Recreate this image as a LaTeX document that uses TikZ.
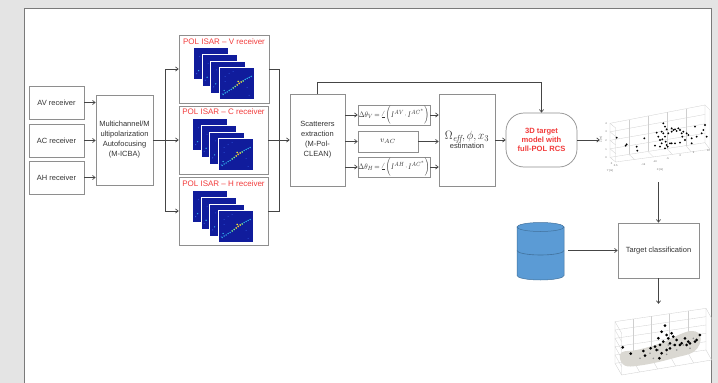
\documentclass[tikz,border=0pt]{standalone}
\usepackage{fontspec}
\setsansfont{Liberation Sans}
\usetikzlibrary{arrows.meta,calc}

\definecolor{pagebg}{HTML}{E4E4E4}
\definecolor{panelline}{HTML}{7A7A7A}
\definecolor{boxline}{HTML}{8E8E8E}
\definecolor{arrowcol}{HTML}{454545}
\definecolor{titlered}{HTML}{F23C3C}
\definecolor{isarblue}{HTML}{101C9C}
\definecolor{isarlight}{HTML}{2F55E0}
\definecolor{isarcyan}{HTML}{33B8F0}
\definecolor{isargreen}{HTML}{7CF08A}
\definecolor{isaryellow}{HTML}{F5E63A}
\definecolor{isarred}{HTML}{F06A2A}
\definecolor{dbblue}{HTML}{5B9BD5}
\definecolor{dbedge}{HTML}{41719C}
\definecolor{gridgray}{HTML}{CFCFCF}
\definecolor{hullgray}{HTML}{DAD8D2}

% narrow set-up for the phase-difference formulas
\newcommand\narrowmath[1]{\scalebox{0.82}[1]{$\thickmuskip=3mu \medmuskip=2mu #1$}}

\tikzset{
  % a stack of four ISAR image frames
  isarstack/.pic={
    \foreach \k in {0,1,2,3}{
      \filldraw[fill=isarblue, draw=white, line width=0.5pt]
        ({8.5*\k},{6.6*\k}) rectangle ++(35,32);
      \fill[isarcyan] ({8.5*\k+5},{6.6*\k+23}) circle[radius=0.7pt];
      \fill[isarlight] ({8.5*\k+3},{6.6*\k+26}) circle[radius=0.6pt];
      \fill[isarlight] ({8.5*\k+6},{6.6*\k+9}) circle[radius=0.5pt];
    }
    \begin{scope}[shift={(25.5,19.8)}]
      \foreach \px/\py in {10/6,28/20,6/14,30/28,14/4}
        \fill[isarlight] (\px,\py) circle[radius=0.5pt];
      \foreach \px/\py in {4/27,6/25.5,8/24.5,10/23,12/22,26/12,28/11,30/10,32/9}
        \fill[isarcyan] (\px,\py) circle[radius=0.8pt];
      \foreach \px/\py in {14/20.5,16/19,24/13.5}
        \fill[isargreen] (\px,\py) circle[radius=0.9pt];
      \foreach \px/\py in {18/17.5,20/16,22/14.5,19/14}
        \fill[isaryellow] (\px,\py) circle[radius=0.9pt];
      \fill[isarred] (20.5,15.5) circle[radius=0.6pt];
    \end{scope}
  },
  blk/.style={draw=boxline, line width=0.7pt, fill=white, align=center,
    inner sep=1pt},
  formula/.style={blk, inner sep=0pt, font=\fontsize{8}{10}\selectfont},
  flow/.style={draw=arrowcol, line width=0.7pt,
    -{Straight Barb[length=2.6pt,width=4.2pt]}},
  link/.style={draw=arrowcol, line width=0.7pt},
  isartitle/.style={text=titlered, font=\sffamily\fontsize{8}{9}\selectfont},
  grid3d/.style={draw=gridgray, line width=0.3pt},
  tick3d/.style={text=black!60, font=\sffamily\fontsize{2.6}{3}\selectfont, inner sep=0pt},
}

\begin{document}
\begin{tikzpicture}[x=1pt, y=-1pt,
  every node/.style={font=\sffamily\fontsize{7.5}{10}\selectfont, text=black!80}]

\useasboundingbox (0,0) rectangle (718,383);
\fill[pagebg] (0,0) rectangle (718,383);
\filldraw[fill=white, draw=panelline, line width=0.9pt] (24,8) rectangle (711,398);

% receivers
\node[blk, minimum width=55pt, minimum height=33pt] (av) at (56.5,102.5) {AV receiver};
\node[blk, minimum width=55pt, minimum height=33pt] (ac) at (56.5,140.5) {AC receiver};
\node[blk, minimum width=55pt, minimum height=33pt] (ah) at (56.5,177.5) {AH receiver};

% autofocusing
\node[blk, minimum width=57pt, minimum height=90pt] (mc) at (124.5,140)
  {Multichannel/M\\ultipolarization\\Autofocusing\\(M-ICBA)};

% POL ISAR image boxes
\node[blk, minimum width=90pt, minimum height=68pt] (polV) at (224,69) {};
\node[blk, minimum width=89pt, minimum height=68pt] (polC) at (223.5,140) {};
\node[blk, minimum width=89pt, minimum height=68pt] (polH) at (223.5,211) {};
\node[isartitle] at ($(polV.north)+(0,6.5)$) {POL ISAR -- V receiver};
\node[isartitle] at ($(polC.north)+(0,6)$) {POL ISAR -- C receiver};
\node[isartitle] at ($(polH.north)+(0,7)$) {POL ISAR -- H receiver};
\pic at ($(polV.north west)+(15,13)$) {isarstack};
\pic at ($(polC.north west)+(14,13)$) {isarstack};
\pic at ($(polH.north west)+(14,14)$) {isarstack};

% scatterers extraction
\node[blk, minimum width=55pt, minimum height=92pt] (sc) at (317.5,140)
  {Scatterers\\extraction\\(M-Pol-\\CLEAN)};

% phase differences and radial velocity
\node[formula, minimum width=72pt, minimum height=20pt] (f1) at (394,115)
  {\narrowmath{\Delta\theta_V=\angle\Big(I^{AV}\cdot I^{AC^*}\Big)}};
\node[formula, minimum width=60pt, minimum height=21pt] (f2) at (388,141.5)
  {$v_{AC}$};
\node[formula, minimum width=72pt, minimum height=20pt] (f3) at (394,167)
  {\narrowmath{\Delta\theta_H=\angle\Big(I^{AH}\cdot I^{AC^*}\Big)}};

% estimation
\node[blk, minimum width=56pt, minimum height=92pt] (est) at (467,140)
  {{\fontsize{12.5}{13}\selectfont\scalebox{0.92}[1]{$\Omega_{\mathit{eff}},\phi,x_3$}}\\[-1pt]estimation};

% 3D target model
\node[draw=boxline, line width=0.7pt, fill=white, rounded corners=18pt,
  minimum width=71pt, minimum height=54pt, align=center,
  font=\sffamily\bfseries\fontsize{7.6}{9}\selectfont, text=titlered] (tgt) at (541.5,140)
  {3D target\\model with\\full-POL RCS};

% target classification
\node[blk, minimum width=81pt, minimum height=55pt] (cls) at (658.5,250.5)
  {Target classification};

% placeholders for the database and the two 3D plots
\node[minimum width=47pt, minimum height=58pt, inner sep=0pt] (db) at (540.5,251.5) {};
\node[minimum width=112pt, minimum height=74pt, inner sep=0pt] (plotA) at (656,141) {};
\node[minimum width=102pt, minimum height=79pt, inner sep=0pt] (plotB) at (661,343.5) {};

% database cylinder
\begin{scope}[shift={(db.center)}]
  \filldraw[fill=dbblue, draw=dbedge, line width=0.5pt]
    (-23.5,-24.5) -- (-23.5,24) arc[start angle=180, end angle=0, x radius=23.5, y radius=4.5]
    -- (23.5,-24.5) -- cycle;
  \draw[dbedge, line width=0.6pt]
    (-23.5,-1) arc[start angle=180, end angle=0, x radius=23.5, y radius=4.5];
  \filldraw[fill=dbblue, draw=dbedge, line width=0.5pt]
    (0,-24.5) ellipse[x radius=23.5, y radius=4.5];
\end{scope}

% 3D scatterer plot
\begin{scope}[shift={(595,100)}, x=0.3333pt, y=-0.3333pt]
  \coordinate (B0) at (45,172); \coordinate (B1) at (330,128);
  \coordinate (T0) at (45,70);  \coordinate (T1) at (330,15);
  \coordinate (F0) at (62,186); \coordinate (F1) at (345,148);
  \coordinate (U0) at (62,84);  \coordinate (U1) at (345,30);
  \draw[grid3d] (B0) -- (B1) -- (T1) -- (T0) -- cycle;
  \draw[grid3d] (B0) -- (F0) -- (F1) -- (B1);
  \draw[grid3d] (T0) -- (U0) -- (F0);
  \draw[grid3d] (T1) -- (U1) -- (F1);
  \foreach \f in {0.2,0.4,0.6,0.8}{
    \draw[grid3d] ($(B0)!\f!(B1)$) -- ($(T0)!\f!(T1)$);
    \draw[grid3d] ($(B0)!\f!(B1)$) -- ($(F0)!\f!(F1)$);
  }
  \foreach \f in {0.25,0.5,0.75}{
    \draw[grid3d] ($(B0)!\f!(T0)$) -- ($(B1)!\f!(T1)$);
    \draw[grid3d] ($(B0)!\f!(T0)$) -- ($(F0)!\f!(U0)$);
  }
  \foreach \px/\py in {65/113,95/133,92/137,125/140,127/152,148/115,180/137,
      185/98,190/110,195/120,200/95,205/100,205/70,210/80,210/110,212/125,
      215/135,218/140,220/100,225/130,230/95,230/85,235/90,240/88,245/93,
      250/85,255/90,260/100,262/110,265/95,270/120,275/100,280/105,290/115,
      300/80,305/110,320/100,325/90,330/75,335/110,210/145,240/130,255/128,
      200/130,195/140,290/130,230/130,202/118,215/88}
    \fill[black] (\px,\py) circle[radius=1.05pt];
  \node[tick3d] at (33,70) {4};
  \node[tick3d] at (33,95) {3};
  \node[tick3d] at (33,122) {2};
  \node[tick3d] at (33,148) {1};
  \node[tick3d] at (33,172) {0};
  \node[tick3d, rotate=90] at (18,120) {Z [m]};
  \node[tick3d] at (50,192) {0};
  \node[tick3d] at (62,197) {0.5};
  \node[tick3d] at (145,195) {-15};
  \node[tick3d] at (180,186) {-10};
  \node[tick3d] at (218,177) {-5};
  \node[tick3d] at (256,168) {0};
  \node[tick3d] at (296,159) {5};
  \node[tick3d] at (340,151) {10};
  \node[tick3d] at (45,212) {Y [m]};
  \node[tick3d] at (195,210) {X [m]};
\end{scope}

% classified target plot
\begin{scope}[shift={(600,295)}, x=0.3333pt, y=-0.3333pt]
  \coordinate (B0) at (45,205); \coordinate (B1) at (318,165);
  \coordinate (T0) at (45,80);  \coordinate (T1) at (318,40);
  \coordinate (F0) at (65,240); \coordinate (F1) at (335,195);
  \coordinate (U0) at (65,115); \coordinate (U1) at (335,70);
  \draw[grid3d] (B0) -- (B1) -- (T1) -- (T0) -- cycle;
  \draw[grid3d] (B0) -- (F0) -- (F1) -- (B1);
  \draw[grid3d] (T0) -- (U0) -- (F0);
  \draw[grid3d] (T1) -- (U1) -- (F1);
  \foreach \f in {0.2,0.4,0.6,0.8}{
    \draw[grid3d] ($(B0)!\f!(B1)$) -- ($(T0)!\f!(T1)$);
    \draw[grid3d] ($(B0)!\f!(B1)$) -- ($(F0)!\f!(F1)$);
  }
  \foreach \f in {0.2,0.4,0.6,0.8}{
    \draw[grid3d] ($(B0)!\f!(T0)$) -- ($(B1)!\f!(T1)$);
    \draw[grid3d] ($(B0)!\f!(T0)$) -- ($(F0)!\f!(U0)$);
  }
  \fill[hullgray] plot[smooth cycle, tension=0.6] coordinates {
    (65,172) (110,165) (160,152) (205,135) (240,118) (272,108) (296,114)
    (302,135) (292,160) (270,176) (230,187) (180,200) (130,210) (82,214) (62,198)};
  \foreach \px/\py in {150/175,175/165,200/178,230/165,250/150,270/160,280/130,
      120/190,160/190,220/150,205/150}
    \fill[black!45] (\px,\py) circle[radius=0.9pt];
  \foreach \px/\py in {68/157,92/176,130/168,135/182,152/160,165/155,170/165,
      180/150,185/175,185/110,195/92,200/120,205/130,210/145,215/115,220/125,
      225/150,230/135,240/150,245/145,255/130,260/150,265/140,270/145,285/140,
      290/135,300/120,190/140,178/190,175/130,210/160,200/165}
    \fill[black] (\px,\py) circle[radius=1.5pt];
\end{scope}

% connectors
\draw[flow] (av.east) -- (av.east -| mc.west);
\draw[flow] (ac.east) -- (ac.east -| mc.west);
\draw[flow] (ah.east) -- (ah.east -| mc.west);

\coordinate (split) at ($(mc.east)+(12,0)$);
\draw[link] (mc.east) -- (split);
\draw[flow] (split) |- (polV.west);
\draw[flow] (split) -- (polC.west);
\draw[flow] (split) |- (polH.west);

\coordinate (merge) at ($(polC.east)+(10.5,0)$);
\draw[link] (polV.east) -| (merge);
\draw[link] (polH.east) -| (merge);
\draw[flow] (polC.east) -- (sc.west);

\draw[flow] (sc.east |- f1.west) -- (f1.west);
\draw[flow] (sc.east |- f2.west) -- (f2.west);
\draw[flow] (sc.east |- f3.west) -- (f3.west);
\draw[flow] (f1.east) -- (f1.east -| est.west);
\draw[flow] (f2.east) -- (f2.east -| est.west);
\draw[flow] (f3.east) -- (f3.east -| est.west);

\draw[flow] (sc.north) -- ++(0,-11) -| (tgt.north);
\draw[flow] (est.east) -- (est.east -| tgt.west);
\draw[flow] (tgt.east) -- (tgt.east -| plotA.west);
\draw[flow, shorten <=4pt] (cls.north |- plotA.south) -- (cls.north);
\draw[flow, shorten <=4pt] (db.east |- cls.west) -- (cls.west);
\draw[flow] (cls.south) -- (cls.south |- plotB.north);

\end{tikzpicture}
\end{document}
